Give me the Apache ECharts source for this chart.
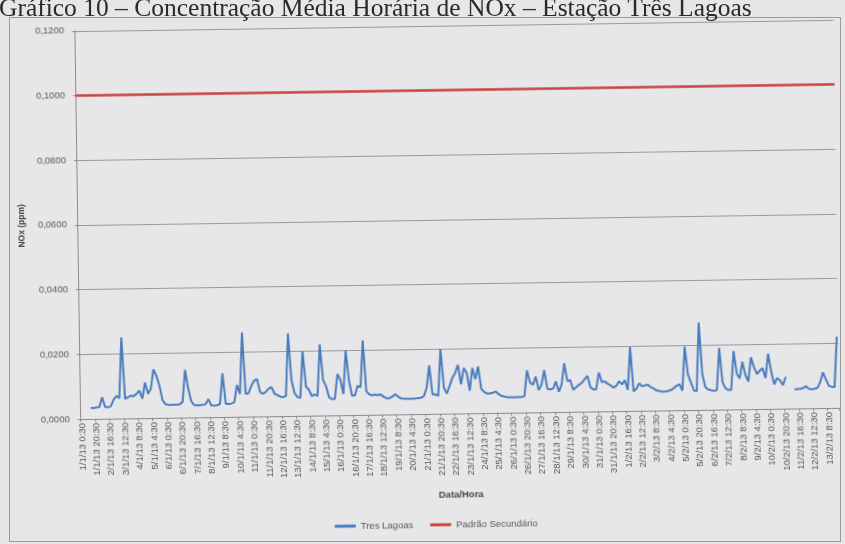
<!DOCTYPE html>
<html>
<head>
<meta charset="utf-8">
<script src="https://cdn.jsdelivr.net/npm/echarts@6/dist/echarts.min.js"></script>
<style>
  html, body { margin: 0; padding: 0; background: #e7e7e9; overflow: hidden; width: 845px; height: 544px; }
  #frame { position: absolute; left: 9px; top: 17px; width: 830px; height: 523px;
           border: 1px solid #9b9b9b; }
  #chart { position: absolute; left: 0; top: 0; width: 845px; height: 544px;
           transform: rotate(-0.85deg); transform-origin: 50% 50%; }
  #title { position: absolute; left: -1px; top: -5px; line-height: 25.5px;
           font-family: "Liberation Serif", "DejaVu Serif", serif; font-size: 25.5px;
           color: #2a2a2a; white-space: nowrap; }
</style>
</head>
<body>
<div id="frame"></div>
<div id="chart"></div>
<div id="title">Gráfico 10 – Concentração Média Horária de NOx – Estação Três Lagoas</div>
<script>
// Hourly means sampled every 4 hours, starting 1/1/13 0:30
const START = { day: 1, month: 1, year: 13, hour: 0 };
const STEP_HOURS = 4;
const LABEL_EVERY = 5;            // one label every 20 hours
const PADRAO_SECUNDARIO = 0.101;  // ppm
const Y_MIN = 0, Y_MAX = 0.12, Y_STEP = 0.02;

// NOx (ppm), station Tres Lagoas
const tresLagoas = [
  null, null, null, 0.0034, 0.0033, 0.0035, 0.0036, 0.0066, 0.0036, 0.0035,
  0.0038, 0.0058, 0.0070, 0.0062, 0.0250, 0.0060, 0.0065, 0.0070, 0.0068, 0.0075,
  0.0085, 0.0060, 0.0110, 0.0075, 0.0090, 0.0150, 0.0130, 0.0100, 0.0055, 0.0042,
  0.0040, 0.0039, 0.0040, 0.0040, 0.0041, 0.0048, 0.0147, 0.0090, 0.0050, 0.0038,
  0.0037, 0.0037, 0.0038, 0.0040, 0.0055, 0.0036, 0.0035, 0.0036, 0.0040, 0.0135,
  0.0040, 0.0040, 0.0041, 0.0045, 0.0098, 0.0070, 0.0260, 0.0070, 0.0072, 0.0095,
  0.0110, 0.0116, 0.0075, 0.0070, 0.0075, 0.0085, 0.0090, 0.0070, 0.0065, 0.0060,
  0.0058, 0.0062, 0.0255, 0.0110, 0.0070, 0.0058, 0.0055, 0.0200, 0.0090, 0.0080,
  0.0060, 0.0065, 0.0060, 0.0220, 0.0110, 0.0090, 0.0055, 0.0050, 0.0050, 0.0127,
  0.0110, 0.0065, 0.0200, 0.0107, 0.0060, 0.0060, 0.0090, 0.0085, 0.0230, 0.0072,
  0.0063, 0.0060, 0.0062, 0.0060, 0.0062, 0.0055, 0.0050, 0.0050, 0.0055, 0.0062,
  0.0055, 0.0049, 0.0048, 0.0048, 0.0047, 0.0048, 0.0048, 0.0049, 0.0050, 0.0055,
  0.0080, 0.0150, 0.0060, 0.0060, 0.0055, 0.0200, 0.0080, 0.0062, 0.0085, 0.0110,
  0.0125, 0.0150, 0.0090, 0.0140, 0.0125, 0.0070, 0.0140, 0.0105, 0.0144, 0.0075,
  0.0065, 0.0060, 0.0060, 0.0062, 0.0066, 0.0058, 0.0052, 0.0050, 0.0048, 0.0048,
  0.0047, 0.0048, 0.0048, 0.0048, 0.0050, 0.0130, 0.0092, 0.0085, 0.0110, 0.0068,
  0.0085, 0.0130, 0.0072, 0.0070, 0.0072, 0.0094, 0.0062, 0.0085, 0.0150, 0.0095,
  0.0098, 0.0068, 0.0075, 0.0083, 0.0088, 0.0100, 0.0110, 0.0075, 0.0068, 0.0068,
  0.0120, 0.0090, 0.0092, 0.0085, 0.0080, 0.0072, 0.0078, 0.0092, 0.0082, 0.0095,
  0.0065, 0.0197, 0.0060, 0.0068, 0.0085, 0.0075, 0.0078, 0.0080, 0.0072, 0.0068,
  0.0062, 0.0060, 0.0058, 0.0058, 0.0060, 0.0062, 0.0068, 0.0075, 0.0080, 0.0060,
  0.0196, 0.0110, 0.0085, 0.0060, 0.0058, 0.0270, 0.0110, 0.0070, 0.0062, 0.0060,
  0.0058, 0.0060, 0.0190, 0.0085, 0.0065, 0.0060, 0.0060, 0.0180, 0.0110, 0.0095,
  0.0147, 0.0105, 0.0085, 0.0160, 0.0130, 0.0108, 0.0118, 0.0126, 0.0095, 0.0170,
  0.0115, 0.0075, 0.0095, 0.0088, 0.0072, 0.0098, null, null, 0.0058, 0.0060,
  0.0060, 0.0062, 0.0068, 0.0060, 0.0058, 0.0060, 0.0062, 0.0080, 0.0110, 0.0088,
  0.0068, 0.0065, 0.0065, 0.0220
];

// Category labels "d/m/yy h:30", one per sample
const daysInMonth = [31, 28, 31, 30, 31, 30, 31, 31, 30, 31, 30, 31];
const categories = [];
{
  let d = START.day, m = START.month, h = START.hour;
  for (let i = 0; i < tresLagoas.length; i++) {
    categories.push(d + '/' + m + '/' + START.year + ' ' + h + ':30');
    h += STEP_HOURS;
    if (h >= 24) { h -= 24; d++; if (d > daysInMonth[m - 1]) { d = 1; m++; } }
  }
}

const FONT = '"Liberation Sans", Arial, sans-serif';
const AXIS_GRAY = '#8a8a8a';
const LABEL_GRAY = '#585858';
const BLUE = '#4a7cbd';
const RED = '#c8423e';

const chart = echarts.init(document.getElementById('chart'), null, { renderer: 'canvas' });
chart.setOption({
  animation: false,
  backgroundColor: 'transparent',
  textStyle: { fontFamily: FONT },
  grid: { left: 78.7, right: 7.8, top: 25.8, bottom: 130.1, containLabel: false },
  legend: {
    left: 326, top: 515,
    itemWidth: 21, itemHeight: 3, itemGap: 17, icon: 'rect',
    textStyle: { fontSize: 9.5, color: LABEL_GRAY, fontFamily: FONT },
    data: ['Tres Lagoas', 'Padrão Secundário']
  },
  xAxis: {
    type: 'category',
    data: categories,
    boundaryGap: true,
    name: 'Data/Hora',
    nameLocation: 'middle',
    nameGap: 76,
    nameTextStyle: { fontWeight: 'bold', fontSize: 9.5, color: '#444', fontFamily: FONT },
    axisLine: { lineStyle: { color: AXIS_GRAY } },
    axisTick: { show: true, interval: LABEL_EVERY - 1, length: 3, lineStyle: { color: AXIS_GRAY } },
    axisLabel: { interval: LABEL_EVERY - 1, rotate: 90, margin: 4, fontSize: 9.5, color: LABEL_GRAY, fontFamily: FONT },
    splitLine: { show: false }
  },
  yAxis: {
    type: 'value',
    min: Y_MIN, max: Y_MAX, interval: Y_STEP,
    name: 'NOx (ppm)',
    nameLocation: 'middle',
    nameGap: 52,
    nameTextStyle: { fontWeight: 'bold', fontSize: 8.5, color: '#444', fontFamily: FONT },
    axisLine: { show: true, lineStyle: { color: AXIS_GRAY } },
    axisTick: { show: true, length: 3, lineStyle: { color: AXIS_GRAY } },
    axisLabel: {
      margin: 11, fontSize: 9.5, color: LABEL_GRAY, fontFamily: FONT,
      formatter: v => v.toFixed(4).replace('.', ',')
    },
    splitLine: { lineStyle: { color: '#9a9a9a', width: 1 } }
  },
  series: [
    {
      name: 'Tres Lagoas',
      type: 'line',
      data: tresLagoas,
      color: BLUE,
      symbol: 'none',
      connectNulls: false,
      lineStyle: { color: BLUE, width: 2 }
    },
    {
      name: 'Padrão Secundário',
      type: 'line',
      data: [],
      color: RED,
      symbol: 'none',
      lineStyle: { color: RED, width: 2.5 },
      markLine: {
        silent: true,
        symbol: 'none',
        label: { show: false },
        lineStyle: { color: RED, width: 2.5, type: 'solid' },
        data: [{ yAxis: PADRAO_SECUNDARIO }]
      }
    }
  ]
});
</script>
</body>
</html>
